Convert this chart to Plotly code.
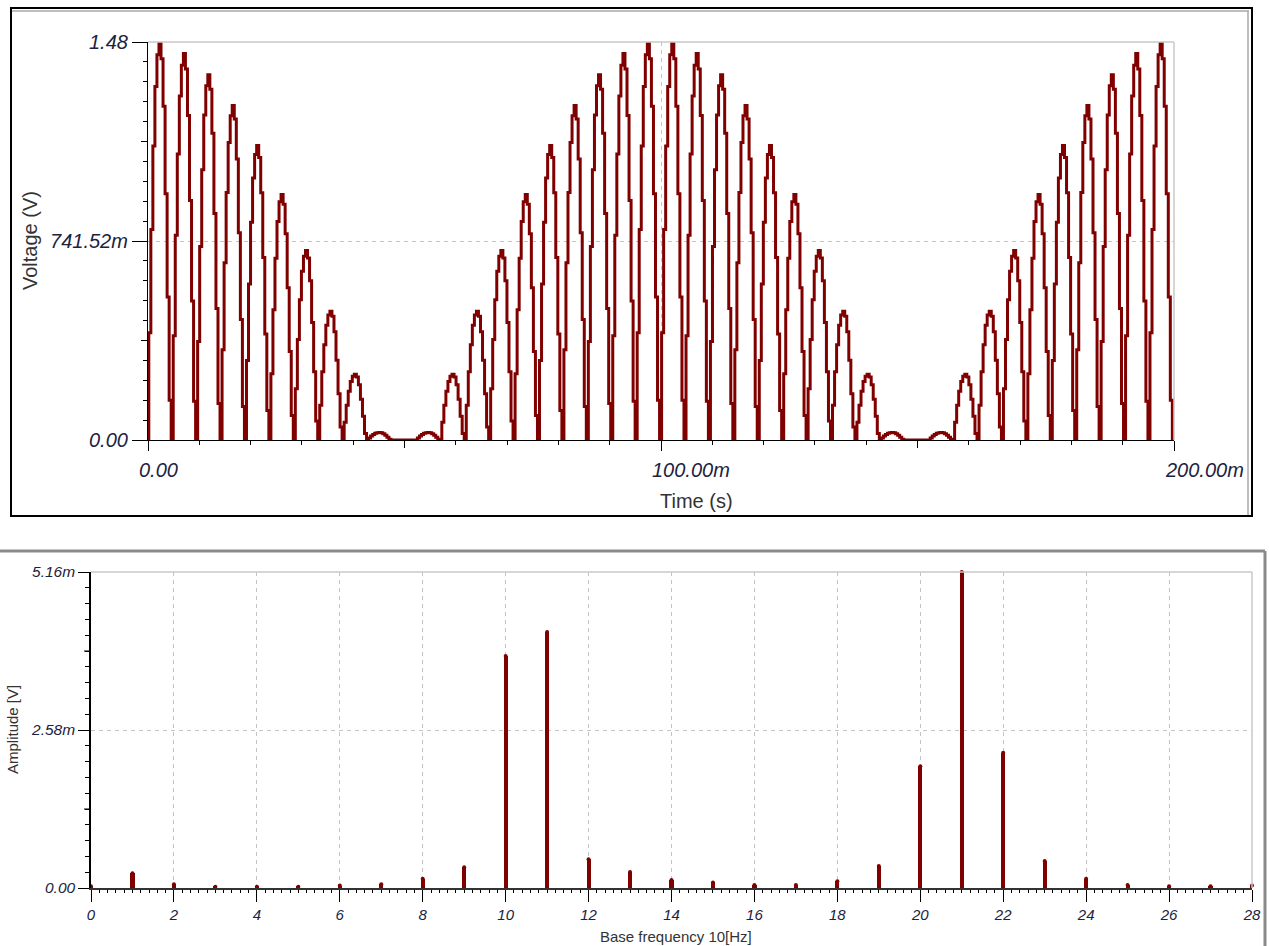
import numpy as np
import plotly.graph_objects as go

# ---------------- data: top chart (rectified waveform) ----------------
# peak voltage of each half-wave hump (V)
HUMP_PEAKS_V = [1.48, 1.44, 1.361, 1.246, 1.097, 0.915, 0.706, 0.48, 0.245, 0.028, 0.0,
                0.028, 0.245, 0.48, 0.706, 0.915, 1.097, 1.246, 1.361, 1.44, 1.48,
                1.48, 1.44, 1.361, 1.246, 1.097, 0.915, 0.706, 0.48, 0.245, 0.028,
                0.0,
                0.028, 0.245, 0.48, 0.706, 0.915, 1.097, 1.246, 1.361, 1.44, 1.48]
HUMP_PROFILE = [0.0, 0.27, 0.53, 0.74, 0.89, 0.97, 1.0, 0.96, 0.84, 0.62, 0.36, 0.10]
HUMP_PERIOD_MS = 4.76
FIRST_HUMP_START_MS = -0.24
END_MS = 200.0

Y_TICKS_TOP = [0.0, 0.74152, 1.48304]
Y_TICKTEXT_TOP = ["0.00", "741.52m", "1.48"]
X_TICKS_TOP = [0, 100, 200]
X_TICKTEXT_TOP = ["0.00", "100.00m", "200.00m"]

# ---------------- data: bottom chart (spectrum) ----------------
HARMONIC = list(range(29))
AMPLITUDE_MV = [0.03, 0.24, 0.06, 0.02, 0.02, 0.02, 0.04, 0.06, 0.15, 0.34,
                3.79, 4.18, 0.47, 0.26, 0.13, 0.09, 0.05, 0.05, 0.11, 0.36,
                1.99, 5.16, 2.21, 0.44, 0.15, 0.05, 0.03, 0.03, 0.04]
Y_TICKS_BOT = [0.0, 2.58, 5.16]
Y_TICKTEXT_BOT = ["0.00", "2.58m", "5.16m"]
X_TICKS_BOT = list(range(0, 29, 2))

# ---------------- build waveform samples ----------------
n = len(HUMP_PROFILE)
dt = HUMP_PERIOD_MS / n
peaks = np.array(HUMP_PEAKS_V)
prof = np.array(HUMP_PROFILE)
k = np.arange(len(peaks))
j = np.arange(n)
t = (FIRST_HUMP_START_MS + k[:, None] * HUMP_PERIOD_MS + j[None, :] * dt).ravel()
v = (peaks[:, None] * prof[None, :]).ravel()
t = np.append(t, [FIRST_HUMP_START_MS + len(peaks) * HUMP_PERIOD_MS, END_MS])
v = np.append(v, [0.0, 0.0])

W, H = 1269, 946
def px(x):
    return x / W
def py(y):
    return 1 - y / H

RED = "#800000"
TXT = "#1c2340"
FONT = "Arial, Liberation Sans, sans-serif"

fig = go.Figure()
fig.add_trace(go.Scatter(x=t, y=v, mode="lines", line=dict(color=RED, width=3, shape="hv"),
                         xaxis="x", yaxis="y", showlegend=False, hoverinfo="skip"))

fig.add_trace(go.Bar(x=HARMONIC, y=AMPLITUDE_MV, width=0.1, marker=dict(color=RED, line=dict(width=0)),
                     xaxis="x2", yaxis="y2", showlegend=False))
fig.add_trace(go.Scatter(x=HARMONIC, y=AMPLITUDE_MV, mode="markers",
                         marker=dict(color=RED, size=4, symbol="circle"), cliponaxis=False,
                         xaxis="x2", yaxis="y2", showlegend=False))

grid = dict(showgrid=True, gridcolor="#c4c4c4", griddash="4px,4px", gridwidth=1, automargin=False)

fig.update_layout(
    width=W, height=H, autosize=False,
    margin=dict(l=0, r=0, t=0, b=0, pad=0),
    paper_bgcolor="white", plot_bgcolor="white",
    font=dict(family=FONT, color="#222"),
    bargap=0,
    xaxis=dict(domain=[px(148), px(1174)], range=[0, 200], anchor="y",
               tickmode="array", tickvals=X_TICKS_TOP, ticktext=["", "", ""],
               ticks="outside", ticklen=10, tickcolor="black", tickwidth=1,
               showline=True, linecolor="black", linewidth=1.2, zeroline=False,
               minor=dict(dtick=10, tick0=0, ticks="outside", ticklen=4, tickcolor="black", showgrid=False),
               **grid),
    yaxis=dict(domain=[py(440), py(42)], range=[0, 1.48304], anchor="x",
               tickmode="array", tickvals=Y_TICKS_TOP, ticktext=Y_TICKTEXT_TOP,
               ticks="outside", ticklen=15, tickcolor="black", tickwidth=1,
               showline=True, linecolor="black", linewidth=1.2, zeroline=False,
               tickfont=dict(size=20, color=TXT, style="italic", family=FONT),
               minor=dict(dtick=0.074152, tick0=0, ticks="outside", ticklen=4, tickcolor="black", showgrid=False),
               **grid),
    xaxis2=dict(domain=[px(91), px(1252)], range=[0, 28], anchor="y2",
                tickmode="array", tickvals=X_TICKS_BOT, ticktext=[str(x) for x in X_TICKS_BOT],
                ticks="outside", ticklen=12, tickcolor="black", tickwidth=1,
                showline=True, linecolor="#333", linewidth=1.5, zeroline=False,
                tickfont=dict(size=15, color=TXT, style="italic", family=FONT),
                minor=dict(dtick=0.2, tick0=0, ticks="outside", ticklen=3, tickcolor="black", showgrid=False),
                **grid),
    yaxis2=dict(domain=[py(888), py(572)], range=[0, 5.16], anchor="x2",
                tickmode="array", tickvals=Y_TICKS_BOT, ticktext=Y_TICKTEXT_BOT,
                ticks="outside", ticklen=11, tickcolor="black", tickwidth=1,
                showline=True, linecolor="black", linewidth=1.5, zeroline=False,
                tickfont=dict(size=15.5, color=TXT, style="italic", family=FONT),
                minor=dict(dtick=0.258, tick0=0, ticks="outside", ticklen=4, tickcolor="black", showgrid=False),
                **grid),
)

annotations = []
# top x tick labels (drawn slightly right of their ticks, as in the source)
for xv, txt in zip(X_TICKS_TOP, X_TICKTEXT_TOP):
    annotations.append(dict(x=xv, y=py(470), xref="x", yref="paper", text=txt, showarrow=False,
                            xanchor="left", yanchor="middle", xshift=-11,
                            font=dict(size=20, color=TXT, style="italic", family=FONT)))
# axis titles
annotations += [
    dict(x=px(696), y=py(501), xref="paper", yref="paper", text="Time (s)", showarrow=False,
         xanchor="center", yanchor="middle", font=dict(size=20, color="#333", family=FONT)),
    dict(x=px(30), y=py(241), xref="paper", yref="paper", text="Voltage (V)", showarrow=False, textangle=-90,
         xanchor="center", yanchor="middle", font=dict(size=20, color="#333", family=FONT)),
    dict(x=px(676), y=py(936), xref="paper", yref="paper", text="Base frequency 10[Hz]", showarrow=False,
         xanchor="center", yanchor="middle", font=dict(size=15, color="#333", family=FONT)),
    dict(x=px(12), y=py(730), xref="paper", yref="paper", text="Amplitude [V]", showarrow=False, textangle=-90,
         xanchor="center", yanchor="middle", font=dict(size=15, color="#333", family=FONT)),
]

shapes = []
# plot area borders (top and right)
for xa, ya in (("x", "y"), ("x2", "y2")):
    shapes.append(dict(type="line", xref=f"{xa} domain", yref=f"{ya} domain", x0=0, x1=1, y0=1, y1=1,
                       line=dict(color="#c8c8c8", width=1.5)))
    shapes.append(dict(type="line", xref=f"{xa} domain", yref=f"{ya} domain", x0=1, x1=1, y0=0, y1=1,
                       line=dict(color="#c8c8c8", width=1.5)))
# medium ticks
for yv in (0.37076, 1.11228):
    shapes.append(dict(type="line", xref="paper", yref="y", x0=px(141), x1=px(148), y0=yv, y1=yv,
                       line=dict(color="black", width=1)))
for xv in (50, 150):
    shapes.append(dict(type="line", xref="x", yref="paper", x0=xv, x1=xv, y0=py(440), y1=py(448),
                       line=dict(color="black", width=1)))
for yv in (1.29, 3.87):
    shapes.append(dict(type="line", xref="paper", yref="y2", x0=px(84), x1=px(91), y0=yv, y1=yv,
                       line=dict(color="black", width=1)))
# top chart outer frame
shapes.append(dict(type="rect", xref="paper", yref="paper", x0=px(11), x1=px(1252), y0=py(516), y1=py(8),
                   line=dict(color="black", width=2)))
shapes.append(dict(type="line", xref="paper", yref="paper", x0=px(12), x1=px(1249), y0=py(11), y1=py(11),
                   line=dict(color="#a8a8a8", width=1.5)))
shapes.append(dict(type="line", xref="paper", yref="paper", x0=px(1248), x1=px(1248), y0=py(11), y1=py(515),
                   line=dict(color="#a8a8a8", width=1.5)))
# bottom chart frame
shapes.append(dict(type="line", xref="paper", yref="paper", x0=0, x1=px(1265), y0=py(551), y1=py(551),
                   line=dict(color="#8a8a8a", width=3)))
shapes.append(dict(type="line", xref="paper", yref="paper", x0=px(1265), x1=px(1265), y0=py(551), y1=0,
                   line=dict(color="#8a8a8a", width=3)))
fig.update_layout(shapes=shapes, annotations=annotations)

fig.write_html("out.html")
